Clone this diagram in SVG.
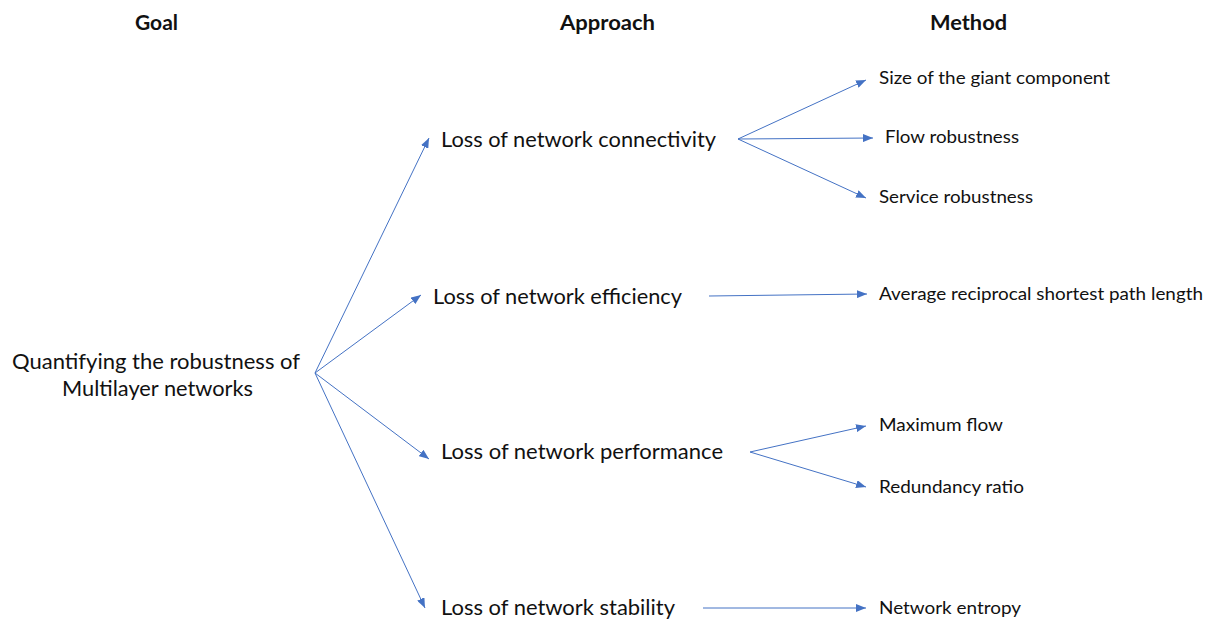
<svg xmlns="http://www.w3.org/2000/svg" width="1214" height="622" viewBox="0 0 1214 622">
  <style>
    .head { font-family: Lato, "Open Sans", sans-serif; font-weight: bold; font-size: 20px; fill: #111; }
    .goal, .appr { font-family: Lato, "Open Sans", sans-serif; font-size: 21px; fill: #111; }
    .meth { font-family: Lato, "Open Sans", sans-serif; font-size: 17.5px; fill: #111; }
    .edge { stroke: #4472C4; stroke-width: 1; fill: none; marker-end: url(#tip); }
  </style>
  <defs>
    <marker id="tip" viewBox="0 0 10 8" refX="10" refY="4" markerWidth="10" markerHeight="8" markerUnits="userSpaceOnUse" orient="auto">
      <path d="M0,0 L10,4 L0,8 Z" fill="#4472C4"/>
    </marker>
  </defs>
  <rect width="1214" height="622" fill="#fff"/>

  <!-- column headings -->
  <g id="headings">
    <text class="head" x="135" y="30" textLength="43" lengthAdjust="spacingAndGlyphs">Goal</text>
    <text class="head" x="560" y="30" textLength="95" lengthAdjust="spacingAndGlyphs">Approach</text>
    <text class="head" x="930" y="30" textLength="77" lengthAdjust="spacingAndGlyphs">Method</text>
  </g>

  <!-- goal -->
  <g id="goal">
    <text class="goal" x="12" y="369" textLength="288" lengthAdjust="spacingAndGlyphs">Quantifying the robustness of</text>
    <text class="goal" x="62" y="396" textLength="191" lengthAdjust="spacingAndGlyphs">Multilayer networks</text>
  </g>

  <!-- approaches -->
  <g id="approach-connectivity">
    <text class="appr" x="441" y="147" textLength="275" lengthAdjust="spacingAndGlyphs">Loss of network connectivity</text>
  </g>
  <g id="approach-efficiency">
    <text class="appr" x="433" y="304" textLength="249" lengthAdjust="spacingAndGlyphs">Loss of network efficiency</text>
  </g>
  <g id="approach-performance">
    <text class="appr" x="441" y="459" textLength="282" lengthAdjust="spacingAndGlyphs">Loss of network performance</text>
  </g>
  <g id="approach-stability">
    <text class="appr" x="441" y="615" textLength="234" lengthAdjust="spacingAndGlyphs">Loss of network stability</text>
  </g>

  <!-- methods -->
  <g id="method-giant">
    <text class="meth" x="879" y="84" textLength="231" lengthAdjust="spacingAndGlyphs">Size of the giant component</text>
  </g>
  <g id="method-flow">
    <text class="meth" x="885" y="143" textLength="134" lengthAdjust="spacingAndGlyphs">Flow robustness</text>
  </g>
  <g id="method-service">
    <text class="meth" x="879" y="203" textLength="154" lengthAdjust="spacingAndGlyphs">Service robustness</text>
  </g>
  <g id="method-reciprocal">
    <text class="meth" x="879" y="300" textLength="324" lengthAdjust="spacingAndGlyphs">Average reciprocal shortest path length</text>
  </g>
  <g id="method-maxflow">
    <text class="meth" x="879" y="431" textLength="124" lengthAdjust="spacingAndGlyphs">Maximum flow</text>
  </g>
  <g id="method-redundancy">
    <text class="meth" x="879" y="493" textLength="145" lengthAdjust="spacingAndGlyphs">Redundancy ratio</text>
  </g>
  <g id="method-entropy">
    <text class="meth" x="879" y="614" textLength="142" lengthAdjust="spacingAndGlyphs">Network entropy</text>
  </g>

  <!-- connectors -->
  <g id="connectors">
    <line class="edge" x1="315" y1="373" x2="429" y2="138"/>
    <line class="edge" x1="315" y1="373" x2="421" y2="295"/>
    <line class="edge" x1="315" y1="373" x2="429" y2="459"/>
    <line class="edge" x1="315" y1="373" x2="425" y2="608"/>

    <line class="edge" x1="738" y1="139" x2="866" y2="80"/>
    <line class="edge" x1="738" y1="139" x2="873" y2="138"/>
    <line class="edge" x1="738" y1="139" x2="866" y2="198"/>

    <line class="edge" x1="709" y1="296" x2="867" y2="294"/>

    <line class="edge" x1="750" y1="452" x2="866" y2="426"/>
    <line class="edge" x1="750" y1="452" x2="866" y2="487"/>

    <line class="edge" x1="703" y1="608" x2="866" y2="608"/>
  </g>
</svg>
